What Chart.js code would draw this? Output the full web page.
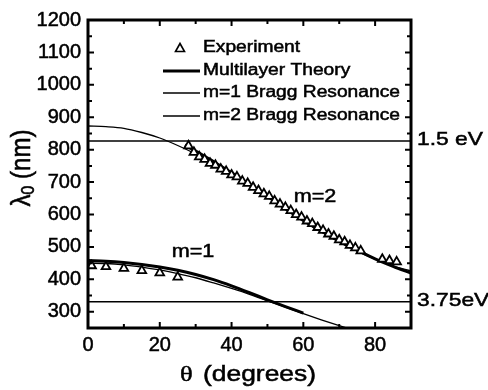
<!DOCTYPE html>
<html>
<head>
<meta charset="utf-8">
<script src="https://cdn.jsdelivr.net/npm/chart.js@4.4.1/dist/chart.umd.min.js"></script>
<style>
  html, body { margin: 0; padding: 0; background: #fff; }
</style>
</head>
<body>
<canvas id="chart" width="488" height="390"></canvas>
<script>
// resonance wavelength (nm) against incidence angle (degrees)
const braggAngles = [0, 5, 10, 15, 20, 25, 30, 35, 40, 45, 50, 55, 60, 65, 70, 75, 80, 85, 90]
const bragg2 = [873, 871, 866, 853, 836, 813, 787, 758, 727, 692, 656, 617, 580, 546, 515, 487, 462, 441, 426]
const bragg1 = [450, 449, 445, 438, 429, 418, 405, 389, 372, 354, 334, 314, 294, 275, 257, 240]

const theory2Angles = [27, 30, 35, 40, 45, 50, 55, 60, 65, 70, 75, 80, 85, 90]
const theory2 = [814, 796, 763, 729, 693, 656, 618, 582, 549, 518, 490, 463, 440, 419]
const theory1Angles = [0, 5, 10, 15, 20, 25, 30, 35, 40, 45, 50, 55, 60]
const theory1 = [458, 456, 452, 446, 438, 428, 415, 399, 380, 359, 337, 316, 296]

const exp2Angles = [28, 29.5, 31, 32.5, 34, 35.5, 37, 38.5, 40, 41.5, 43, 44.5, 46, 47.5, 49, 50.5, 52, 53.5, 55, 56.5, 58, 59.5, 61, 62.5, 64, 65.5, 67, 68.5, 70, 71.5, 73, 74.5, 76, 82, 84, 86]
const exp2 = [812, 792, 778, 770, 758, 752, 740, 733, 722, 716, 703, 696, 684, 674, 664, 656, 642, 632, 622, 612, 600, 592, 580, 572, 560, 551, 540, 533, 522, 516, 505, 497, 488, 462, 458, 454]
const exp1Angles = [1, 5, 10, 15, 20, 25]
const exp1 = [442, 439, 434, 427, 420, 407]

const energyLines = [826.7, 330.7]
const energyLabels = ["1.5 eV", "3.75eV"]

const xTicks = [0, 20, 40, 60, 80]
const yTicks = [300, 400, 500, 600, 700, 800, 900, 1000, 1100, 1200]
const legendLabels = ["Experiment", "Multilayer Theory", "m=1 Bragg Resonance", "m=2 Bragg Resonance"]

const pairs = (xs, ys) => ys.map((y, i) => ({ x: xs[i], y }))
const SANS = "'Liberation Sans', Arial, sans-serif"

function curve(data, width) {
  return {
    data, borderColor: "#000", borderWidth: width, pointRadius: 0,
    cubicInterpolationMode: "monotone", fill: false, order: 2
  }
}

function markers(data) {
  return {
    data, showLine: false, pointStyle: "triangle", pointRadius: 5,
    pointBorderWidth: 1.8, pointBorderColor: "#000", pointBackgroundColor: "#fff", order: 0
  }
}

// text stretched sideways, with a hairline stroke for a heavier look
function wideText(ctx, str, x, y, font, align) {
  ctx.save()
  ctx.font = font
  ctx.textBaseline = "middle"
  ctx.textAlign = align || "left"
  ctx.translate(x, y)
  ctx.scale(1.2, 1)
  ctx.lineWidth = 0.5
  ctx.strokeStyle = "#000"
  ctx.fillText(str, 0, 0)
  ctx.strokeText(str, 0, 0)
  ctx.restore()
}

const decorations = {
  id: "decorations",
  afterDatasetsDraw(chart) {
    const { ctx, chartArea: a, scales: { x, y } } = chart
    ctx.save()
    ctx.strokeStyle = "#000"
    ctx.lineWidth = 3
    ctx.strokeRect(a.left, a.top, a.right - a.left, a.bottom - a.top)

    // inward ticks on all four sides
    ctx.lineWidth = 2
    ctx.beginPath()
    for (let v = 10; v < 90; v += 10) {
      const px = x.getPixelForValue(v)
      const len = v % 20 === 0 ? 6 : 4
      ctx.moveTo(px, a.bottom); ctx.lineTo(px, a.bottom - len)
      ctx.moveTo(px, a.top); ctx.lineTo(px, a.top + len)
    }
    for (let v = 300; v < 1200; v += 50) {
      const py = y.getPixelForValue(v)
      const len = v % 100 === 0 ? 6 : 4
      ctx.moveTo(a.left, py); ctx.lineTo(a.left + len, py)
      ctx.moveTo(a.right, py); ctx.lineTo(a.right - len, py)
    }
    ctx.stroke()
    ctx.restore()
  },
  afterDraw(chart) {
    const { ctx, chartArea: a, scales: { y } } = chart
    ctx.save()
    ctx.fillStyle = "#000"

    // photon energy labels beside the right axis
    energyLines.forEach((v, i) => {
      wideText(ctx, energyLabels[i], a.right + 6, y.getPixelForValue(v) - 1, "19px " + SANS)
    })

    wideText(ctx, "m=2", 315, 197, "18px " + SANS, "center")
    wideText(ctx, "m=1", 193, 252, "18px " + SANS, "center")

    // legend
    const lx0 = 163, lx1 = 200, tx = 203
    const rows = [48, 71, 93, 116]
    ctx.strokeStyle = "#000"
    ctx.fillStyle = "#fff"
    ctx.lineWidth = 1.6
    ctx.beginPath()
    ctx.moveTo(180, rows[0] - 4.5)
    ctx.lineTo(184.5, rows[0] + 3.5)
    ctx.lineTo(175.5, rows[0] + 3.5)
    ctx.closePath()
    ctx.fill()
    ctx.stroke()
    ;[3, 1.3, 1.3].forEach((w, i) => {
      ctx.lineWidth = w
      ctx.beginPath()
      ctx.moveTo(lx0, rows[i + 1]); ctx.lineTo(lx1, rows[i + 1])
      ctx.stroke()
    })
    ctx.fillStyle = "#000"
    legendLabels.forEach((t, i) => wideText(ctx, t, tx, rows[i], "16px " + SANS))

    // axis titles
    wideText(ctx, "\u03b8", 180, 375, "22px 'Liberation Serif', serif")
    wideText(ctx, "(degrees)", 203, 375, "22px " + SANS)

    ctx.save()
    ctx.translate(22, (a.top + a.bottom) / 2 - 6)
    ctx.rotate(-Math.PI / 2)
    ctx.scale(1, 1.15)
    ctx.textBaseline = "middle"
    ctx.strokeStyle = "#000"
    ctx.lineWidth = 0.5
    const big = "24px " + SANS, small = "16px " + SANS
    const lam = "\u03bb", rest = " (nm)"
    ctx.font = small
    const wSub = ctx.measureText("0").width
    ctx.font = big
    const wLam = ctx.measureText(lam).width
    const total = wLam + wSub + ctx.measureText(rest).width
    let cx = -total / 2
    ctx.fillText(lam, cx, 0); ctx.strokeText(lam, cx, 0)
    cx += wLam
    ctx.font = small
    ctx.fillText("0", cx, 6); ctx.strokeText("0", cx, 6)
    cx += wSub
    ctx.font = big
    ctx.fillText(rest, cx, 0); ctx.strokeText(rest, cx, 0)
    ctx.restore()

    ctx.restore()
  }
}

const tickStyle = {
  color: "#000", font: { family: SANS, size: 20 },
  textStrokeColor: "#000", textStrokeWidth: 0.5, callback: v => String(v)
}

new Chart(document.getElementById("chart"), {
  type: "line",
  data: {
    datasets: [
      markers(pairs(exp2Angles, exp2)),
      markers(pairs(exp1Angles, exp1)),
      curve(pairs(theory2Angles, theory2), 3),
      curve(pairs(theory1Angles, theory1), 3),
      curve(pairs(braggAngles, bragg2), 1.3),
      curve(pairs(braggAngles, bragg1), 1.3),
      ...energyLines.map(v => curve([{ x: 0, y: v }, { x: 90, y: v }], 1.5))
    ]
  },
  options: {
    responsive: false,
    animation: false,
    layout: { padding: { top: 20, right: 77, left: 0, bottom: 0 } },
    plugins: { legend: { display: false }, tooltip: { enabled: false } },
    scales: {
      x: {
        type: "linear", min: 0, max: 90,
        afterBuildTicks: s => { s.ticks = xTicks.map(v => ({ value: v })) },
        afterFit: s => { s.height = 62 },
        grid: { drawOnChartArea: false, drawTicks: false },
        border: { display: false },
        ticks: { ...tickStyle, padding: 5, maxRotation: 0 }
      },
      y: {
        min: 250, max: 1200,
        afterBuildTicks: s => { s.ticks = yTicks.map(v => ({ value: v })) },
        afterFit: s => { s.width = 88 },
        grid: { drawOnChartArea: false, drawTicks: false },
        border: { display: false },
        ticks: { ...tickStyle, padding: 7 }
      }
    }
  },
  plugins: [decorations]
})
</script>
</body>
</html>
